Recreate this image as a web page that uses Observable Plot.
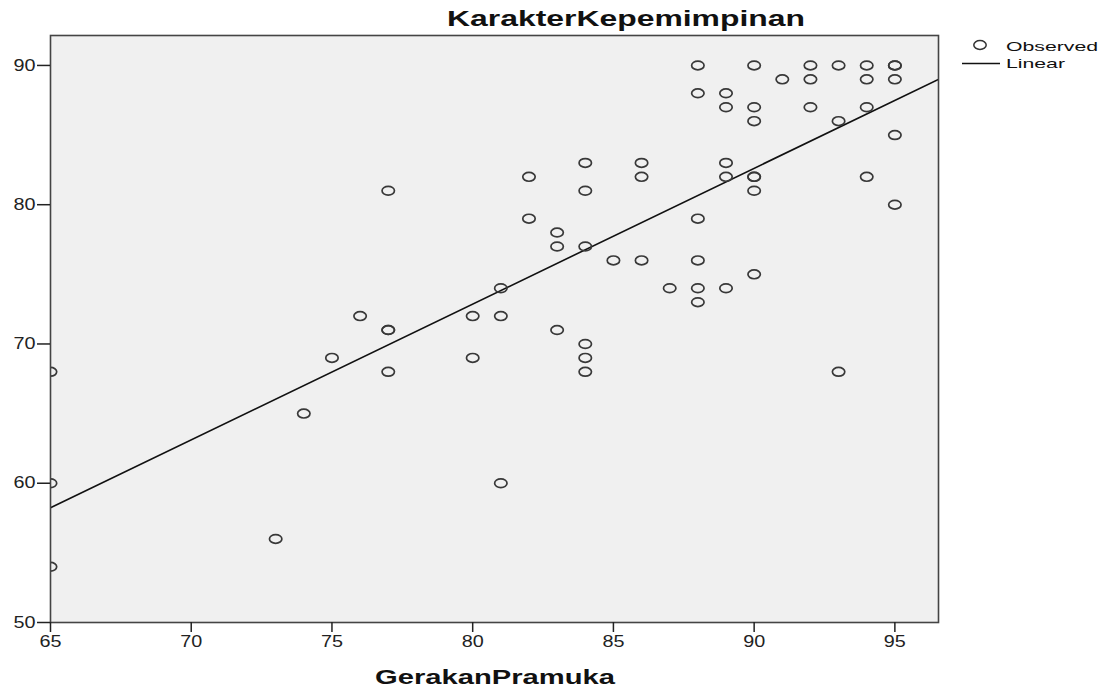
<!DOCTYPE html>
<html>
<head>
<meta charset="utf-8">
<script src="https://cdn.jsdelivr.net/npm/d3@7"></script>
<script src="https://cdn.jsdelivr.net/npm/@observablehq/plot@0.6"></script>
<style>
  html, body { margin: 0; padding: 0; background: #fff; }
  #chart { width: 1103px; height: 688px; }
</style>
</head>
<body>
<div id="chart"></div>
<script>
// Data (GerakanPramuka vs KarakterKepemimpinan)
const gerakanPramuka = [
  65, 65, 65,
  73, 74, 75, 76,
  77, 77, 77, 77,
  80, 80,
  81, 81, 81,
  82, 82,
  83, 83, 83,
  84, 84, 84, 84, 84, 84,
  85,
  86, 86, 86,
  87,
  88, 88, 88, 88, 88, 88,
  89, 89, 89, 89, 89,
  90, 90, 90, 90, 90, 90, 90,
  91,
  92, 92, 92,
  93, 93, 93,
  94, 94, 94, 94,
  95, 95, 95, 95, 95
];
const karakterKepemimpinan = [
  68, 60, 54,
  56, 65, 69, 72,
  81, 71, 71, 68,
  72, 69,
  74, 72, 60,
  82, 79,
  78, 77, 71,
  83, 81, 77, 70, 69, 68,
  76,
  83, 82, 76,
  74,
  90, 88, 79, 76, 74, 73,
  88, 87, 83, 82, 74,
  90, 87, 86, 82, 82, 81, 75,
  89,
  90, 89, 87,
  90, 86, 68,
  90, 89, 87, 82,
  90, 90, 89, 85, 80
];
// Linear fit line endpoints
const fitX = [65, 96.55];
const fitY = [58.24, 89.0];

const xTicks = [65, 70, 75, 80, 85, 90, 95];
const yTicks = [50, 60, 70, 80, 90];
const chartTitle = "KarakterKepemimpinan";
const xTitle = "GerakanPramuka";
const legendLabels = ["Observed", "Linear"];

const points = gerakanPramuka.map((x, i) => ({x, y: karakterKepemimpinan[i]}));
const fit = fitX.map((x, i) => ({x, y: fitY[i]}));

// ellipse symbol (reference is horizontally stretched)
const ellipseSymbol = {
  draw(context) {
    const rx = 6.2, ry = 4.4, k = 0.5523;
    context.moveTo(rx, 0);
    context.bezierCurveTo(rx, k * ry, k * rx, ry, 0, ry);
    context.bezierCurveTo(-k * rx, ry, -rx, k * ry, -rx, 0);
    context.bezierCurveTo(-rx, -k * ry, -k * rx, -ry, 0, -ry);
    context.bezierCurveTo(k * rx, -ry, rx, -k * ry, rx, 0);
    context.closePath();
  }
};

const FONT = "'Liberation Sans', Arial, sans-serif";

const chart = Plot.plot({
  width: 1103,
  height: 688,
  marginLeft: 50,
  marginTop: 35,
  marginRight: 165,
  marginBottom: 66,
  style: {background: "#fff", fontFamily: FONT, color: "#222"},
  x: {domain: [65, 96.55]},
  y: {domain: [50, 92.15]},
  marks: [
    Plot.frame({fill: "#f0f0f0"}),
    Plot.line(fit, {x: "x", y: "y", stroke: "#111", strokeWidth: 1.6, clip: true}),
    Plot.dot(points, {x: "x", y: "y", symbol: ellipseSymbol, stroke: "#383838", strokeWidth: 1.7, fill: "none", clip: true}),
    Plot.frame({stroke: "#444", strokeWidth: 1.6}),
    Plot.axisX(xTicks, {tickSize: 10, tickPadding: 3, fontSize: 16, label: null, stroke: "#222", strokeWidth: 1.5}),
    Plot.axisY(yTicks, {tickSize: 13, tickPadding: 2, fontSize: 16, label: null, stroke: "#222", strokeWidth: 1.5})
  ]
});

document.getElementById("chart").appendChild(chart);

const svg = d3.select(chart);
// stretch tick labels like the reference
svg.selectAll('g[aria-label="x-axis tick label"] text, g[aria-label="y-axis tick label"] text')
  .attr("textLength", 22)
  .attr("lengthAdjust", "spacingAndGlyphs")
  .attr("fill", "#222");

const extra = svg.append("g").attr("font-family", FONT).attr("fill", "#111");
// Title
extra.append("text")
  .attr("x", 626).attr("y", 26)
  .attr("text-anchor", "middle")
  .attr("font-size", 22).attr("font-weight", "bold")
  .attr("textLength", 358).attr("lengthAdjust", "spacingAndGlyphs")
  .text(chartTitle);
// X axis title
extra.append("text")
  .attr("x", 495).attr("y", 684)
  .attr("text-anchor", "middle")
  .attr("font-size", 21).attr("font-weight", "bold")
  .attr("textLength", 240).attr("lengthAdjust", "spacingAndGlyphs")
  .text(xTitle);

// Legend
const lg = extra.append("g").attr("text-anchor", "start");
lg.append("path")
  .attr("transform", "translate(980,45)")
  .attr("d", () => { const p = d3.path(); ellipseSymbol.draw(p); return p.toString(); })
  .attr("fill", "none").attr("stroke", "#333").attr("stroke-width", 1.5);
lg.append("text")
  .attr("x", 1006).attr("y", 51)
  .attr("text-anchor", "start")
  .attr("font-size", 13)
  .attr("textLength", 92).attr("lengthAdjust", "spacingAndGlyphs")
  .text(legendLabels[0]);
lg.append("line")
  .attr("x1", 962).attr("x2", 1000).attr("y1", 63.5).attr("y2", 63.5)
  .attr("stroke", "#111").attr("stroke-width", 1.6);
lg.append("text")
  .attr("x", 1006).attr("y", 68)
  .attr("text-anchor", "start")
  .attr("font-size", 13)
  .attr("textLength", 59).attr("lengthAdjust", "spacingAndGlyphs")
  .text(legendLabels[1]);
</script>
</body>
</html>
